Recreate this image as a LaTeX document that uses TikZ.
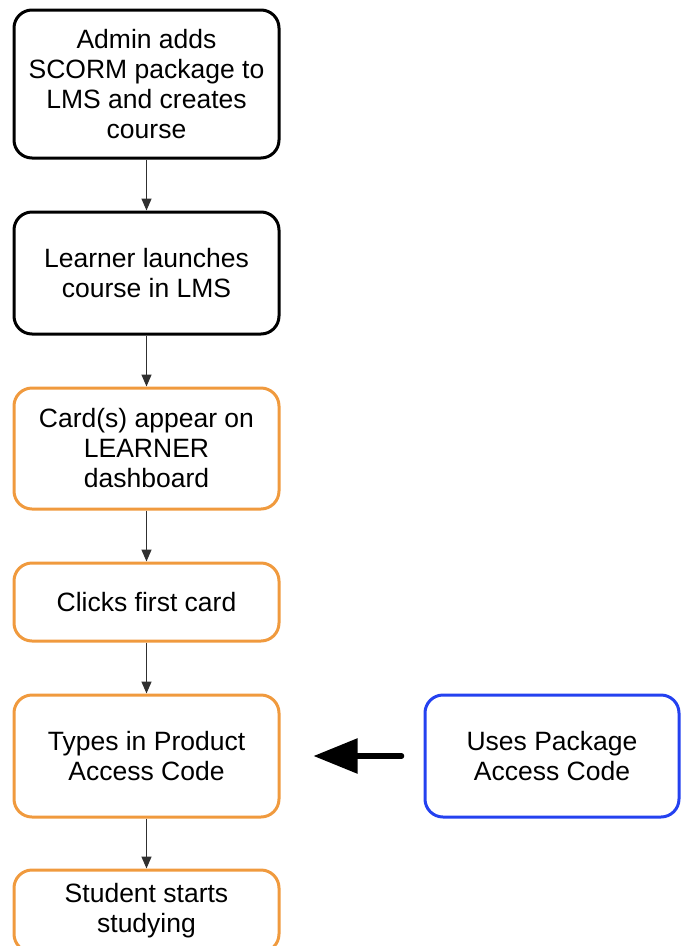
\documentclass[tikz,border=0pt]{standalone}
\usepackage{fontspec}
\setmainfont{Liberation Sans}
\usetikzlibrary{arrows.meta}
\definecolor{boxorange}{HTML}{F09A3E}
\definecolor{boxblue}{HTML}{2441F0}
\definecolor{linkgray}{HTML}{303030}
\begin{document}
\begin{tikzpicture}[x=1pt,y=-1pt,
  flowbox/.style={draw, line width=3pt, rounded corners=18pt, minimum width=265pt,
    align=center, inner sep=0pt, font=\fontsize{26.5}{30}\selectfont},
  blackbox/.style={flowbox, draw=black},
  orangebox/.style={flowbox, draw=boxorange},
  bluebox/.style={flowbox, draw=boxblue, minimum width=254pt},
  link/.style={draw=linkgray, line width=1.4pt, -{Triangle[width=10pt,length=12pt]}},
  biglink/.style={draw=black, line width=5.5pt, line cap=round, -{Triangle[width=34pt,length=44pt]}}]
\useasboundingbox (0,0) rectangle (681,946);
\node[blackbox, minimum height=148pt] (a) at (146.5,84) {Admin adds\\SCORM package to\\LMS and creates\\course};
\node[blackbox, minimum height=122pt] (b) at (146.5,273) {Learner launches\\course in LMS};
\node[orangebox, minimum height=121pt] (c) at (146.5,448.5) {Card(s) appear on\\LEARNER\\dashboard};
\node[orangebox, minimum height=78pt] (d) at (146.5,602) {Clicks first card};
\node[orangebox, minimum height=122pt] (e) at (146.5,756) {Types in Product\\Access Code};
\node[orangebox, minimum height=82pt] (f) at (146.5,911) {Student starts\\studying};
\node[bluebox, minimum height=122pt] (g) at (552,756) {Uses Package\\Access Code};
\draw[link] (a.south) -- (b.north);
\draw[link] (b.south) -- (c.north);
\draw[link] (c.south) -- (d.north);
\draw[link] (d.south) -- (e.north);
\draw[link] (e.south) -- (f.north);
\draw[biglink, shorten <=22pt, shorten >=33pt] (g.west) -- (e.east);
\end{tikzpicture}
\end{document}
